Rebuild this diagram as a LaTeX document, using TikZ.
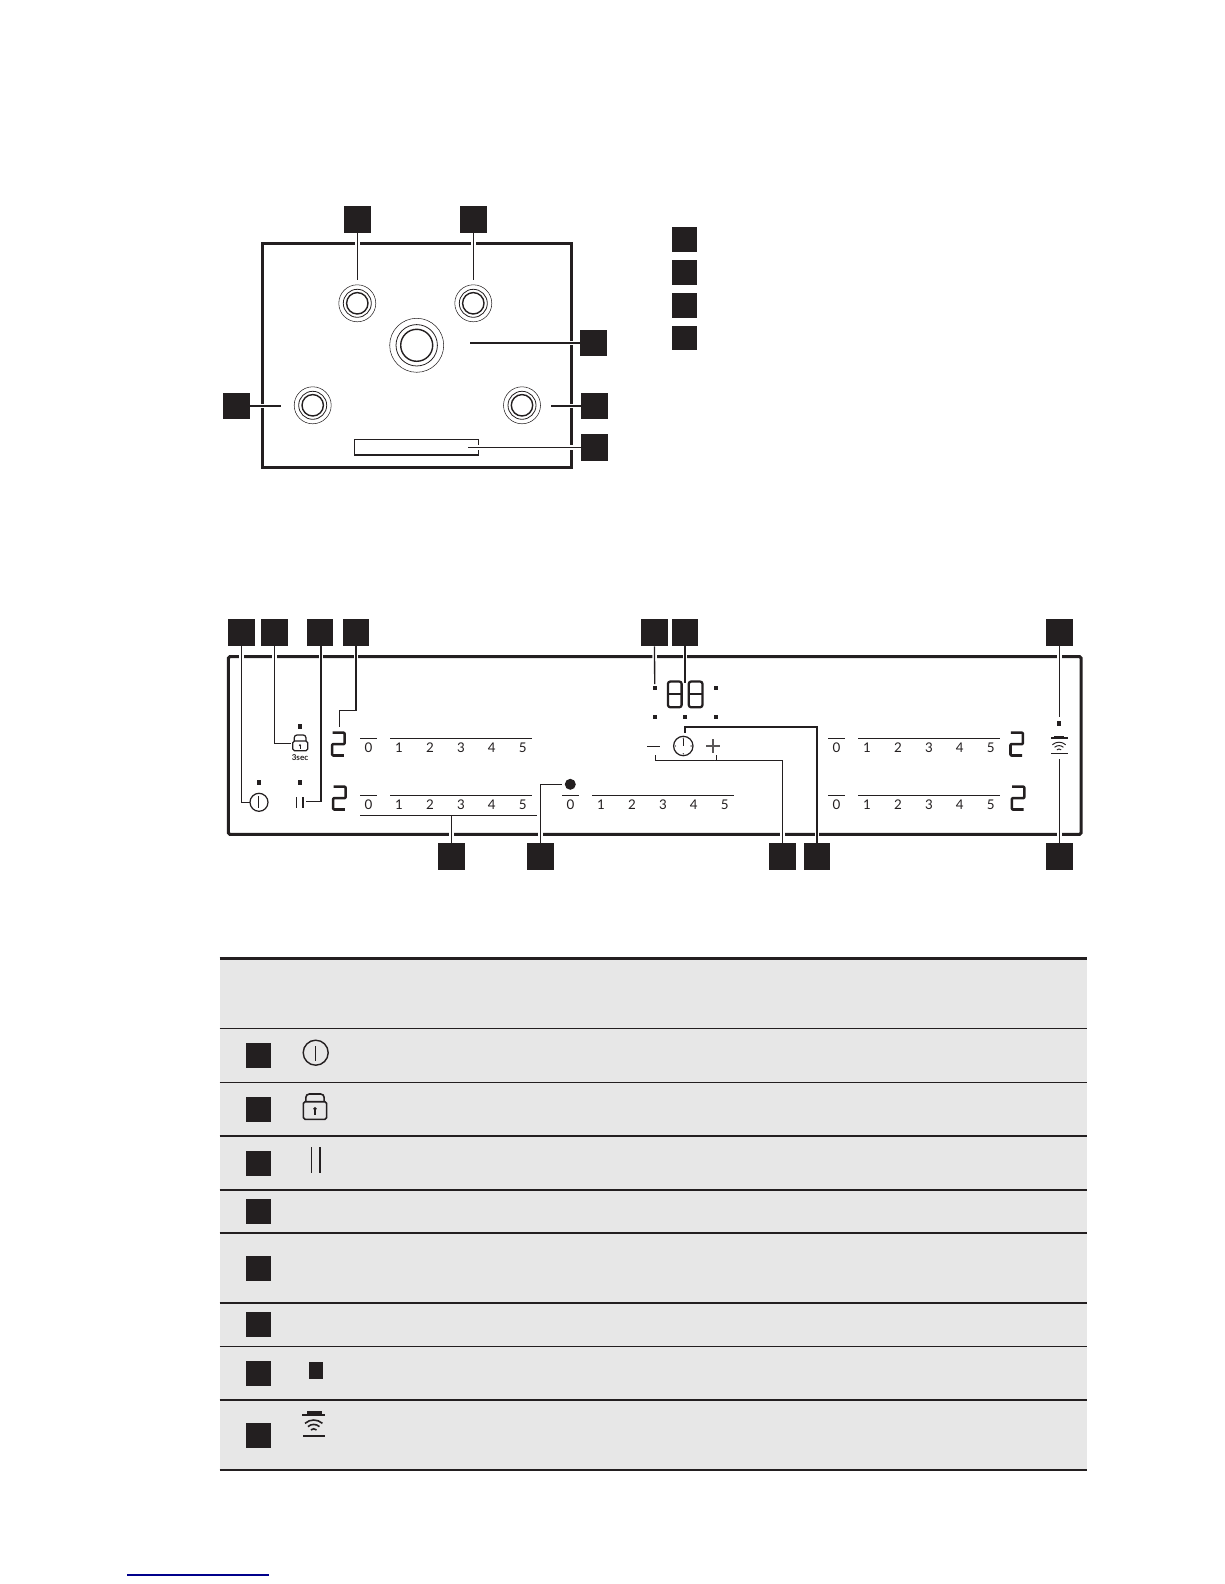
\documentclass[tikz,border=0pt]{standalone}
\usepackage{fontspec}
\setmainfont{Lato}
\definecolor{inkdark}{HTML}{231F20}
\definecolor{rowgray}{HTML}{E7E7E7}
\definecolor{linkblue}{HTML}{00008B}
\tikzset{
    numbox/.style={fill=inkdark, inner sep=0pt, minimum size=15.3pt},
    legbox/.style={fill=inkdark, inner sep=0pt, minimum size=14.2pt},
    frameline/.style={draw=inkdark, line width=1.7pt},
    leader/.style={draw=inkdark, line width=0.75pt, preaction={draw=white, line width=2.6pt}},
    barline/.style={draw=inkdark, line width=0.6pt},
    segline/.style={draw=inkdark, line width=1.45pt, line join=round},
    symline/.style={draw=inkdark, line width=0.7pt},
    digit/.style={inner sep=0pt, text=inkdark, text height=5.2pt, text depth=0pt, font=\fontsize{7.6}{8}\selectfont}
}
% seven segment digits
\newcommand{\segtwo}[2]{
    \draw[segline, rounded corners=0.5pt, shift={(#1,#2)}] (1.5,1) -- (13.6,1) -- (13.6,12.4) -- (1.2,12.4) -- (1.2,23.8) -- (12.8,23.8);
}
\newcommand{\segeight}[2]{
    \draw[segline, rounded corners=1.2pt, line width=1.3pt, shift={(#1,#2)}] (1,0.6) rectangle (14.6,26.2);
    \draw[segline, line width=1.3pt, shift={(#1,#2)}] (1,13.3) -- (14.6,13.3);
}
% slider: name, left end, bar height
\newcommand{\slider}[3]{
    \begin{scope}[shift={(#2,#3)}]
        \draw[barline] (0,0) -- (17,0);
        \draw[barline] (30,0) -- (172,0);
        \foreach \lab/\dx in {0/8.4,1/39,2/70,3/101,4/131.7,5/162.7}
            \node[digit] (#1-\lab) at (\dx,9.6) {\lab};
    \end{scope}
}
% small square indicator
\newcommand{\tinydot}[2]{\fill[inkdark] (#1-2,#2-2.2) rectangle (#1+2,#2+2.2);}
\begin{document}
\begin{tikzpicture}[x=0.02cm, y=-0.02cm]
    \useasboundingbox (0,0) rectangle (1224,1584);

    % hob seen from above
    \draw[frameline] (262.3,243.3) rectangle (571.7,467.5);
    \draw[symline, line width=0.9pt] (354.7,439.7) rectangle (478.7,455);
    \foreach \bx/\by/\ra/\rb/\rc in {357.3/303.3/18.5/14/10.7, 473.3/303.3/18.5/14/10.7, 416.7/345.3/27/20.7/16, 312.7/405.3/18.5/14/10.7, 522/405.3/18.5/14/10.7} {
        \draw[inkdark, line width=0.3pt] (\bx,\by) circle (\ra);
        \draw[inkdark, line width=0.45pt] (\bx,\by) circle (\rb);
        \draw[inkdark, line width=0.8pt] (\bx,\by) circle (\rc);
    }
    \node[numbox] (hobA) at (357.5,219.3) {};
    \node[numbox] (hobB) at (473.5,219.3) {};
    \node[numbox] (hobC) at (593.5,343) {};
    \node[numbox] (hobD) at (594.5,406) {};
    \node[numbox] (hobE) at (594.5,447.3) {};
    \node[numbox] (hobF) at (236.5,406) {};
    \coordinate (endA) at (357.5,280.5);
    \coordinate (endB) at (473.5,280.5);
    \coordinate (endC) at (470,343);
    \coordinate (endD) at (550.7,406);
    \coordinate (endE) at (468,447.3);
    \coordinate (endF) at (281.3,406);
    \draw[leader] (hobA.south) -- (endA);
    \draw[leader] (hobB.south) -- (endB);
    \draw[leader] (hobC.west) -- (endC);
    \draw[leader] (hobD.west) -- (endD);
    \draw[leader] (hobE.west) -- (endE);
    \draw[leader] (hobF.east) -- (endF);
    % legend
    \foreach \ly [count=\li] in {239.5,272.5,305.5,338}
        \node[legbox] (leg\li) at (684.5,\ly) {};

    % control panel
    \draw[frameline, rounded corners=0.8pt] (228.3,656.7) rectangle (1081,834.3);
    \foreach \nm/\nx in {topA/241.5,topB/274.5,topC/320,topD/356,topE/654.5,topF/685,topG/1059.5}
        \node[numbox] (\nm) at (\nx,632.5) {};
    \foreach \nm/\nx in {lowA/451.5,lowB/540.5,lowC/782.5,lowD/817,lowE/1059.5}
        \node[numbox] (\nm) at (\nx,856.5) {};
    \coordinate (powerEnd) at (250,802.3);
    \coordinate (lockEnd) at (291,743.7);
    \coordinate (pauseEnd) at (305.7,801.7);
    \coordinate (segEnd) at (339.3,726.7);
    \coordinate (dotEnd) at (654.7,684);
    \coordinate (timeEnd) at (685,682.7);
    \coordinate (hoodEnd) at (1059.5,716.7);
    \coordinate (barEnd) at (451.5,815.3);
    \coordinate (bridgeEnd) at (562.3,784.3);
    \coordinate (minusEnd) at (655.3,755);
    \coordinate (plusEnd) at (716.3,755);
    \coordinate (clockEnd) at (685,733.3);
    \coordinate (wifiEnd) at (1059.5,759);
    \draw[leader] (topA.south) |- (powerEnd);
    \draw[leader] (topB.south) |- (lockEnd);
    \draw[leader] (topC.south) ++(1,0) |- (pauseEnd);
    \draw[leader] (topD.south) |- (339.3,710.7) -- (segEnd);
    \draw[leader] (topE.south) -- (dotEnd);
    \draw[leader, line width=1.1pt] (topF.south) -- (timeEnd);
    \draw[leader] (topG.south) -- (hoodEnd);
    \draw[leader] (lowA.north) -- (barEnd);
    \draw[leader] (lowB.north) |- (bridgeEnd);
    \draw[leader] (lowC.north) |- (655.3,760.3) -- (minusEnd);
    \draw[leader] (716.3,760.3) -- (plusEnd);
    \draw[leader, line width=1pt] (lowD.north) |- (685,727) -- (clockEnd);
    \draw[leader] (lowE.north) -- (wifiEnd);

    % sliders
    \slider{sliA}{360}{738.3}
    \slider{sliB}{360}{795.3}
    \slider{sliC}{562}{795.3}
    \slider{sliD}{828}{738.3}
    \slider{sliE}{828}{795.3}
    \draw[barline] (360,815.3) -- (536.7,815.3);

    % displays
    \segtwo{331}{731.7}
    \segtwo{332}{785.7}
    \segtwo{1009.3}{731.7}
    \segtwo{1010.7}{785.7}
    \segeight{667}{681}
    \segeight{687.8}{681}

    % indicators
    \tinydot{259}{782.3}
    \tinydot{300}{726.3}
    \tinydot{300}{782.3}
    \tinydot{654.7}{687.7}
    \tinydot{715.7}{687.7}
    \tinydot{654.7}{717}
    \tinydot{685}{717}
    \tinydot{715.7}{717}
    \tinydot{1059}{723.3}

    % on/off, lock, pause
    \draw[symline] (259,802.3) circle (9);
    \draw[symline] (258.6,796) -- (258.6,807.5);
    \draw[symline, rounded corners=1pt] (292.7,741) rectangle (307.7,750.7);
    \draw[symline, rounded corners=1.5pt] (294.3,741) -- (294.3,735) -- (305.9,735) -- (305.9,741);
    \fill[inkdark] (300,745.3) circle (1.1);
    \draw[inkdark, line width=0.5pt] (300,745.3) -- (300,748.5);
    \node[inner sep=0pt, text=inkdark, font=\fontsize{4.6}{5}\selectfont\bfseries] (lockTime) at (300,757.3) {3sec};
    \draw[symline, line width=0.9pt] (296.7,797) -- (296.7,807.5);
    \draw[symline, line width=0.9pt] (303,797) -- (303,807.5);

    % timer keys
    \draw[symline] (647,746.3) -- (660,746.3);
    \draw[symline] (683.3,746) circle (9.7);
    \draw[symline] (683.3,739) -- (683.3,746);
    \foreach \ang in {0,90,180,270}
        \fill[inkdark] (683.3,746) ++(\ang:7.8) circle (0.7);
    \draw[symline, draw=inkdark!75] (706.3,746) -- (719.7,746);
    \draw[symline, draw=inkdark!75] (713,739.3) -- (713,752.7);
    \fill[inkdark] (570.3,784.3) circle (5.5);

    % hood link on the panel
    \fill[inkdark] (1054,735.6) rectangle (1064,737.2);
    \draw[inkdark, line width=1.1pt] (1051,737.8) -- (1067.7,737.8);
    \foreach \rr in {10,6.6,3.2}
        \draw[inkdark, line width=0.55pt] (1059,752.2) ++(228:\rr) arc (228:312:\rr);
    \draw[symline] (1051,753.3) -- (1067.7,753.3);

    % table
    \fill[rowgray] (220,958.3) rectangle (1086.5,1470);
    \foreach \ry/\rw in {958.3/1.7,1028.3/0.6,1082.3/0.6,1136/1,1189.7/1,1233/1,1303/1,1346.3/0.6,1400/1,1470/1}
        \draw[inkdark, line width=\rw pt] (219.5,\ry) -- (1086.5,\ry);
    \foreach \ry [count=\ri] in {1055.5,1109.5,1163.5,1211.5,1268.5,1324.5,1373.5,1435.5}
        \node[legbox] (row\ri) at (258.5,\ry) {};
    \draw[symline, line width=0.8pt] (315.7,1052.7) circle (12.5);
    \draw[symline, line width=0.8pt] (315.7,1046) -- (315.7,1060.7);
    \draw[symline, line width=0.9pt, rounded corners=1pt] (303.3,1101.7) rectangle (326.7,1119.3);
    \draw[symline, line width=0.9pt, rounded corners=2pt] (305.8,1101.7) -- (305.8,1094) -- (324.2,1094) -- (324.2,1101.7);
    \fill[inkdark] (315,1108.7) circle (1.9);
    \draw[inkdark, line width=0.9pt] (315,1108.7) -- (315,1115);
    \draw[symline, line width=0.75pt] (311.7,1147.3) -- (311.7,1173.3);
    \draw[symline, line width=0.75pt] (320,1147.3) -- (320,1173.3);
    \fill[inkdark] (309,1362) rectangle (323,1379);
    \fill[inkdark] (306.7,1411) rectangle (321.7,1414);
    \draw[inkdark, line width=1.4pt] (302.3,1415) -- (325,1415);
    \foreach \rr in {13,8.6,4.2}
        \draw[inkdark, line width=0.9pt] (313.7,1433) ++(228:\rr) arc (228:312:\rr);
    \draw[inkdark, line width=0.9pt] (303,1435.7) -- (325,1435.7);

    % link underline at the foot
    \draw[linkblue, line width=0.7pt] (127,1575) -- (269,1575);
\end{tikzpicture}
\end{document}
